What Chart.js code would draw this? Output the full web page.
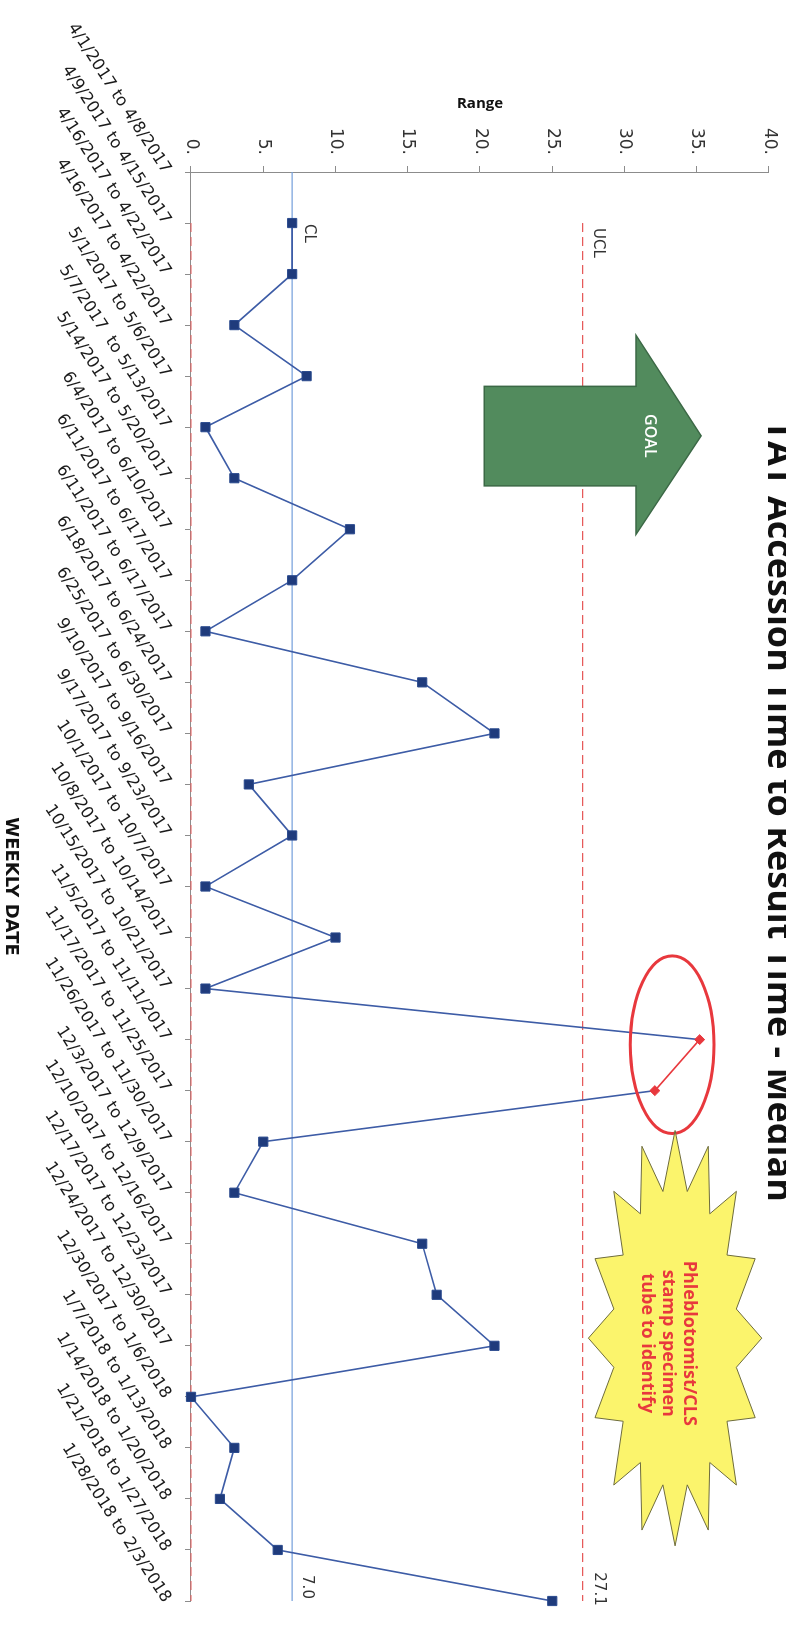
<!DOCTYPE html>
<html>
<head>
<meta charset="utf-8">
<title>Accession Time to Result Time - Median</title>
<script src="https://cdn.jsdelivr.net/npm/chart.js@4.4.1/dist/chart.umd.min.js"></script>
<style>
  html, body { margin: 0; padding: 0; width: 786px; height: 1631px; overflow: hidden; background: #fff; }
  /* the chart is drawn landscape and turned a quarter turn, like the scanned page */
  #wrap { position: absolute; left: 0; top: 0; width: 1631px; height: 810px;
          transform-origin: 0 0; transform: translate(810px, 0) rotate(90deg); }
</style>
</head>
<body>
<div id="wrap"><canvas id="controlChart" width="1631" height="810"></canvas></div>
<script>
// weekly categories (as printed, duplicates included)
const weekLabels = [
  '4/1/2017 to 4/8/2017', '4/9/2017 to 4/15/2017', '4/16/2017 to 4/22/2017', '4/16/2017 to 4/22/2017',
  '5/1/2017 to 5/6/2017', '5/7/2017  to 5/13/2017', '5/14/2017 to 5/20/2017', '6/4/2017 to 6/10/2017',
  '6/11/2017 to 6/17/2017', '6/11/2017 to 6/17/2017', '6/18/2017 to 6/24/2017', '6/25/2017 to 6/30/2017',
  '9/10/2017 to 9/16/2017', '9/17/2017 to 9/23/2017', '10/1/2017 to 10/7/2017', '10/8/2017 to 10/14/2017',
  '10/15/2017 to 10/21/2017', '11/5/2017 to 11/11/2017', '11/17/2017 to 11/25/2017', '11/26/2017 to 11/30/2017',
  '12/3/2017 to 12/9/2017', '12/10/2017 to 12/16/2017', '12/17/2017 to 12/23/2017', '12/24/2017 to 12/30/2017',
  '12/30/2017 to 1/6/2018', '1/7/2018 to 1/13/2018', '1/14/2018 to 1/20/2018', '1/21/2018 to 1/27/2018',
  '1/28/2018 to 2/3/2018'
];

// median range per week (first week has no value)
const rangeValues = [null, 7, 7, 3, 8, 1, 3, 11, 7, 1, 16, 21, 4, 7, 1, 10, 1,
  35.2, 32.1, 5, 3, 16, 17, 21, 0, 3, 2, 6, 25];

// out of control weeks, drawn red
const flaggedWeeks = [17, 18];

const centerLine = 7.0;
const upperLimit = 27.1;
const lowerLimit = 0;
const rangeTicks = [0, 5, 10, 15, 20, 25, 30, 35, 40];

const clData = weekLabels.map(() => centerLine);
const uclData = weekLabels.map((l, i) => i === 0 ? null : upperLimit);
const lclData = weekLabels.map((l, i) => i === 0 ? null : lowerLimit);

const navy = '#1f3b7c';
const lineBlue = '#3d5ca6';
const red = '#e8383d';

// shapes and notes drawn over the plot, in axis units
const notes = {
  arrow: { shaftFrom: 20.3, shaftTo: 30.8, tip: 35.3, shaftA: 4.2, shaftB: 6.15, headA: 3.2, headB: 7.1, mid: 5.17 },
  ring: { cat: 17.1, val: 33.3, rCat: 1.74, rVal: 2.9 },
  star: { cat: 22.85, val: 33.5, rCat: 4.07, rVal: 6.0 },
  starText: ['Phleblotomist/CLS', 'stamp specimen', 'tube to identify']
};

function starPath(ctx, cx, cy, rx, ry, spikes, inner) {
  ctx.beginPath();
  for (let i = 0; i < spikes * 2; i++) {
    const a = Math.PI + i * Math.PI / spikes;
    const r = i % 2 === 0 ? 1 : inner;
    const px = cx + Math.cos(a) * rx * r;
    const py = cy + Math.sin(a) * ry * r;
    if (i === 0) ctx.moveTo(px, py); else ctx.lineTo(px, py);
  }
  ctx.closePath();
}

const notesPlugin = {
  id: 'notes',
  afterDatasetsDraw(chart) {
    const { ctx, scales: { x, y } } = chart;
    const px = v => x.getPixelForValue(v);
    const py = v => y.getPixelForValue(v);
    ctx.save();

    // goal arrow
    const a = notes.arrow;
    ctx.beginPath();
    ctx.moveTo(px(a.shaftA), py(a.shaftFrom));
    ctx.lineTo(px(a.shaftA), py(a.shaftTo));
    ctx.lineTo(px(a.headA), py(a.shaftTo));
    ctx.lineTo(px(a.mid), py(a.tip));
    ctx.lineTo(px(a.headB), py(a.shaftTo));
    ctx.lineTo(px(a.shaftB), py(a.shaftTo));
    ctx.lineTo(px(a.shaftB), py(a.shaftFrom));
    ctx.closePath();
    ctx.fillStyle = '#528b5d';
    ctx.fill();
    ctx.strokeStyle = '#3b6845';
    ctx.lineWidth = 1.5;
    ctx.stroke();
    ctx.fillStyle = '#ffffff';
    ctx.font = '600 16px "Open Sans"';
    ctx.textAlign = 'center';
    ctx.textBaseline = 'middle';
    ctx.fillText('GOAL', px(a.mid), py(31.7));

    // red ring around the flagged weeks
    const r = notes.ring;
    ctx.beginPath();
    ctx.ellipse(px(r.cat), py(r.val), px(r.cat + r.rCat) - px(r.cat), py(r.val - r.rVal) - py(r.val), 0, 0, Math.PI * 2);
    ctx.strokeStyle = red;
    ctx.lineWidth = 3;
    ctx.stroke();

    // yellow burst with the action note
    const s = notes.star;
    starPath(ctx, px(s.cat), py(s.val), px(s.cat + s.rCat) - px(s.cat), py(s.val - s.rVal) - py(s.val), 16, 0.72);
    ctx.fillStyle = '#fbf46c';
    ctx.fill();
    ctx.strokeStyle = '#6e6c3c';
    ctx.lineWidth = 1;
    ctx.stroke();
    ctx.fillStyle = red;
    ctx.font = 'bold 18px "Open Sans"';
    notes.starText.forEach((t, i) => {
      ctx.fillText(t, px(22.95), py(33.0) + (i - 1) * 21);
    });

    // limit labels
    ctx.fillStyle = '#333';
    ctx.font = '15px "DejaVu Sans"';
    ctx.textAlign = 'left';
    ctx.fillText('CL', px(1) + 1, py(centerLine) - 17);
    ctx.fillText('UCL', px(1) + 5, py(upperLimit) - 15);
    ctx.textAlign = 'center';
    ctx.fillText(centerLine.toFixed(1), px(28) - 14, py(centerLine) - 15);
    ctx.fillText(upperLimit.toFixed(1), px(28) - 12, py(upperLimit) - 16);
    ctx.restore();
  },
  afterDraw(chart) {
    // title sits partly off the page edge, as in the scan
    const { ctx } = chart;
    ctx.save();
    ctx.fillStyle = '#111';
    ctx.font = 'bold 36px "Open Sans"';
    ctx.textAlign = 'center';
    ctx.textBaseline = 'alphabetic';
    ctx.fillText('TAT Accession Time to Result Time - Median', 811, 42);
    ctx.restore();
  }
};

const el = document.getElementById('controlChart').getContext('2d');

const controlChart = new Chart(el, {
  type: 'line',
  data: {
    labels: weekLabels,
    datasets: [
      {
        label: 'Range',
        data: rangeValues,
        borderColor: lineBlue,
        borderWidth: 1.6,
        tension: 0,
        clip: false,
        pointStyle: rangeValues.map((v, i) => flaggedWeeks.includes(i) ? 'rectRot' : 'rect'),
        pointRadius: rangeValues.map((v, i) => flaggedWeeks.includes(i) ? 5 : 6.5),
        pointBackgroundColor: rangeValues.map((v, i) => flaggedWeeks.includes(i) ? red : navy),
        pointBorderColor: rangeValues.map((v, i) => flaggedWeeks.includes(i) ? red : '#2a4a8e'),
        pointBorderWidth: 1,
        segment: {
          borderColor: c => flaggedWeeks.includes(c.p0DataIndex) && flaggedWeeks.includes(c.p1DataIndex) ? red : undefined
        }
      },
      {
        label: 'CL',
        data: clData,
        borderColor: '#79a2dc',
        borderWidth: 1.3,
        pointRadius: 0
      },
      {
        label: 'UCL',
        data: uclData,
        borderColor: '#e65a5a',
        borderWidth: 1.2,
        borderDash: [9, 5],
        pointRadius: 0
      },
      {
        label: 'LCL',
        data: lclData,
        borderColor: '#e65a5a',
        borderWidth: 1.2,
        borderDash: [9, 5],
        pointRadius: 0,
        clip: false
      }
    ]
  },
  options: {
    responsive: false,
    animation: false,
    layout: { padding: { top: 41, right: 30, left: 0, bottom: 0 } },
    plugins: {
      legend: { display: false },
      tooltip: { enabled: false }
    },
    scales: {
      x: {
        offset: false,
        grid: { drawOnChartArea: false, tickLength: 6, color: '#8c8c8c' },
        border: { color: '#8c8c8c' },
        ticks: {
          autoSkip: false,
          minRotation: 33,
          maxRotation: 33,
          padding: 10,
          color: '#1a1a1a',
          font: { family: 'DejaVu Sans', size: 16.5 }
        },
        title: {
          display: true,
          text: 'WEEKLY DATE',
          color: '#111',
          font: { family: 'DejaVu Sans', size: 18, weight: 'bold' },
          padding: { top: 0, bottom: 0 }
        },
        afterFit: s => { s.height = 191; }
      },
      y: {
        min: 0,
        max: 40,
        afterBuildTicks: s => { s.ticks = rangeTicks.map(v => ({ value: v })); },
        grid: { drawOnChartArea: false, tickLength: 6, color: '#8c8c8c' },
        border: { color: '#8c8c8c' },
        ticks: {
          padding: 11,
          color: '#333',
          font: { family: 'DejaVu Sans', size: 17 },
          callback: v => v + '.'
        },
        title: {
          display: true,
          text: 'Range',
          color: '#111',
          font: { family: 'Open Sans', size: 15, weight: 'bold' },
          padding: { top: 95, bottom: 0 }
        },
        afterFit: s => { s.width = 172; }
      }
    }
  },
  plugins: [notesPlugin]
});
</script>
</body>
</html>
